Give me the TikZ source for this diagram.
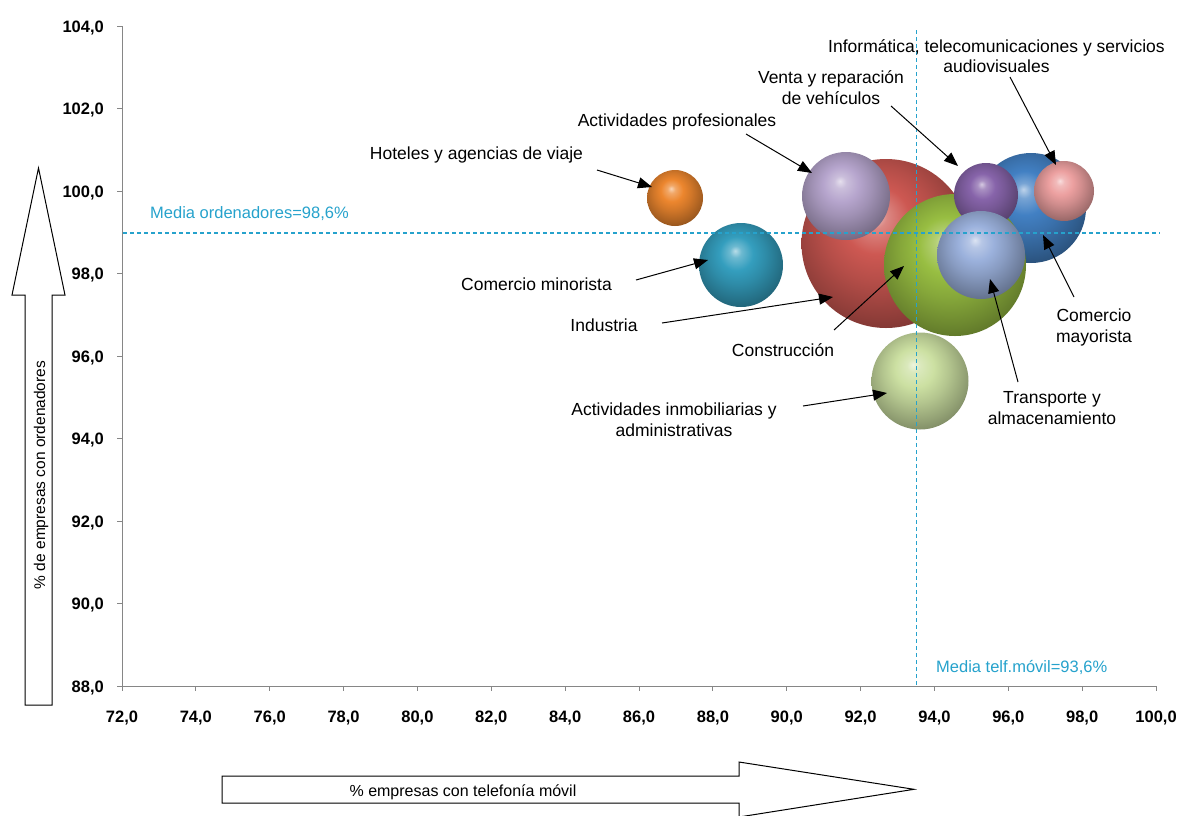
\documentclass[tikz,border=0pt]{standalone}
\usepackage{fontspec}
\setmainfont{Liberation Sans}
\usetikzlibrary{arrows.meta}
\definecolor{meancol}{RGB}{38,162,204}
\definecolor{axiscol}{RGB}{134,134,134}
\definecolor{cind}{RGB}{205,88,82}
\definecolor{cmay}{RGB}{66,128,195}
\definecolor{ccon}{RGB}{152,190,66}
\definecolor{cprof}{RGB}{182,165,205}
\definecolor{cven}{RGB}{135,100,170}
\definecolor{cinf}{RGB}{236,160,160}
\definecolor{ctra}{RGB}{155,177,220}
\definecolor{cmin}{RGB}{52,158,190}
\definecolor{chot}{RGB}{236,134,46}
\definecolor{cinm}{RGB}{204,224,162}
\makeatletter
\pgfdeclareradialshading[tikz@ball]{excelball}{\pgfqpoint{-3.5bp}{8.5bp}}{%
  color(0bp)=(tikz@ball!35!white);
  color(3.5bp)=(tikz@ball!72!white);
  color(10bp)=(tikz@ball);
  color(17bp)=(tikz@ball!88!black);
  color(25bp)=(tikz@ball!72!black);
  color(33bp)=(tikz@ball!55!black);
  color(50bp)=(tikz@ball!48!black)}
\makeatother
\begin{document}
\begin{tikzpicture}[x=1pt,y=-1pt,
  lbl/.style={font=\fontsize{17.5}{20.5}\selectfont, inner sep=0pt, align=center, anchor=base},
  ptr/.style={-{Triangle[length=14pt,width=11pt]}, line width=1pt, black},
  bubble/.style={circle, inner sep=0pt, draw=none},
  bcol/.style={ball color=#1, shading=excelball},
  ticklbl/.style={font=\fontsize{16.5}{18}\selectfont\bfseries, inner sep=0pt},
  axisline/.style={axiscol, line width=1pt},
  meanline/.style={meancol, dash pattern=on 4pt off 3pt, line width=1.2pt},
  meanlbl/.style={meancol, font=\fontsize{16.5}{18}\selectfont, inner sep=0pt, anchor=base west},
  blockarrow/.style={draw=black, fill=white, line width=1pt},
  axtitle/.style={font=\fontsize{15.5}{18}\selectfont, inner sep=0pt, anchor=base}
]
\useasboundingbox (0,0) rectangle (1178,815);

% axes
\draw[axisline] (122,26) -- (122,686) -- (1156,686);
\foreach \v in {88,90,...,104} {
  \pgfmathsetmacro{\yy}{686-(\v-88)*41.25}
  \draw[axisline] (117,\yy) -- (122,\yy);
  \node[ticklbl, anchor=base east] (yl\v) at (104,\yy+6) {\v,0};
}
\foreach \v in {72,74,...,100} {
  \pgfmathsetmacro{\xx}{122+(\v-72)*36.93}
  \draw[axisline] (\xx,686) -- (\xx,691);
  \node[ticklbl, anchor=base] (xl\v) at (\xx,722) {\v,0};
}

% bubbles
\node[bubble, minimum size=169pt, bcol=cind] (ind) at (886,243.5) {};
\node[bubble, minimum size=110pt, bcol=cmay] (may) at (1031,208) {};
\node[bubble, minimum size=142pt, bcol=ccon] (con) at (955,265) {};
\node[bubble, minimum size=88pt, bcol=cprof] (prof) at (846,196) {};
\node[bubble, minimum size=64pt, bcol=cven] (ven) at (986,195) {};
\node[bubble, minimum size=60pt, bcol=cinf] (inf) at (1064,191) {};
\node[bubble, minimum size=88pt, bcol=ctra] (tra) at (981,255) {};
\node[bubble, minimum size=84pt, bcol=cmin] (min) at (741,265) {};
\node[bubble, minimum size=56pt, bcol=chot] (hot) at (675,198) {};
\node[bubble, minimum size=97pt, bcol=cinm] (inm) at (920,381) {};

% mean lines
\coordinate (hA) at (123,233);
\coordinate (hB) at (1160,233);
\coordinate (vA) at (916.7,30);
\coordinate (vB) at (916.7,685);
\draw[meanline] (hA) -- (hB);
\draw[meanline] (vA) -- (vB);
\node[meanlbl] (mord) at (150,218) {Media ordenadores=98,6\%};
\node[meanlbl] (mtel) at (936,672) {Media telf.móvil=93,6\%};

% labels (base = baseline of last line)
\node[lbl] (thot) at (476.5,159) {Hoteles y agencias de viaje};
\node[lbl] (tprof) at (677,126) {Actividades profesionales};
\node[lbl] (tmin) at (536.5,290) {Comercio minorista};
\node[lbl] (tind) at (604,331.5) {Industria};
\node[lbl] (tcon) at (783,356.5) {Construcción};
\node[lbl] (tinm) at (674,436) {Actividades inmobiliarias y\\administrativas};
\node[lbl] (tven) at (831,104) {Venta y reparación\\de vehículos};
\node[lbl] (tinf) at (996.5,72.5) {Informática, telecomunicaciones y servicios\\audiovisuales};
\node[lbl] (tmay) at (1094,342) {Comercio\\mayorista};
\node[lbl] (ttra) at (1052,424) {Transporte y\\almacenamiento};

% pointer coordinates
\coordinate (hotS) at (597,170);   \coordinate (hotE) at (652,187);
\coordinate (profS) at (746,134);  \coordinate (profE) at (812,173);
\coordinate (minS) at (636,280);   \coordinate (minE) at (708,260);
\coordinate (indS) at (662,323);   \coordinate (indE) at (833,297);
\coordinate (conS) at (834,330);   \coordinate (conE) at (904,266);
\coordinate (inmS) at (803,406);   \coordinate (inmE) at (887,393);
\coordinate (venS) at (891,106);   \coordinate (venE) at (958,166);
\coordinate (infS) at (1010,77);   \coordinate (infE) at (1056,165);
\coordinate (mayS) at (1074,297);  \coordinate (mayE) at (1043,235);
\coordinate (traS) at (1018,382);  \coordinate (traE) at (990,279);
\foreach \n in {hot,prof,min,ind,con,inm,ven,inf,may,tra}
  \draw[ptr] (\n S) -- (\n E);

% block arrows (axis titles)
\draw[blockarrow] (25,705) -- (25,295) -- (12,295) -- (38.5,168) -- (65,295) -- (52,295) -- (52,705) -- cycle;
\node[axtitle, rotate=90] (ytitle) at (45,475) {\% de empresas con ordenadores};
\draw[blockarrow] (222,776) -- (739,776) -- (739,762) -- (914,789.3) -- (739,817) -- (739,803) -- (222,803) -- cycle;
\node[axtitle, font=\fontsize{16}{18}\selectfont] (xtitle) at (463,796.5) {\% empresas con telefonía móvil};
\end{tikzpicture}
\end{document}
